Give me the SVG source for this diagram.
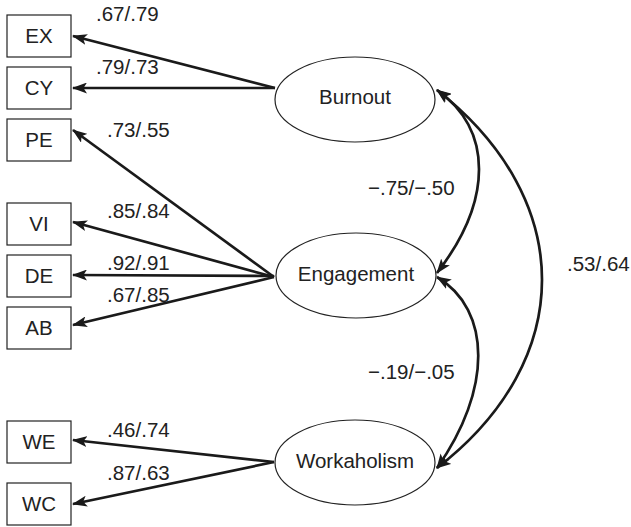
<svg xmlns="http://www.w3.org/2000/svg" width="631" height="527" viewBox="0 0 631 527">
<style>
.box{fill:#fff;stroke:#222;stroke-width:1.2}
.lat{fill:#fff;stroke:#222;stroke-width:1.2}
.t{font-family:"Liberation Sans",Arial,sans-serif;font-size:20.5px;fill:#222}
.c{text-anchor:middle}
.e{fill:none;stroke:#1a1a1a;stroke-width:2.7}
</style>
<defs>
<marker id="ah" viewBox="0 0 15 11" refX="14" refY="5.5" markerWidth="15" markerHeight="11" markerUnits="userSpaceOnUse" orient="auto-start-reverse">
<path d="M0,0 L15,5.5 L0,11 L3.5,5.5 Z" fill="#1a1a1a"/>
</marker>
</defs>
<g id="connectors">
<path class="e" d="M275,88 L73,36" marker-end="url(#ah)"/>
<path class="e" d="M275,88 L73,88" marker-end="url(#ah)"/>
<path class="e" d="M274,277 L73,130" marker-end="url(#ah)"/>
<path class="e" d="M274,277 L73,222" marker-end="url(#ah)"/>
<path class="e" d="M274,276 L73,275" marker-end="url(#ah)"/>
<path class="e" d="M274,277 L73,325" marker-end="url(#ah)"/>
<path class="e" d="M274,462 L73,440" marker-end="url(#ah)"/>
<path class="e" d="M274,462 L73,504" marker-end="url(#ah)"/>
<path class="e" d="M437,90 C493,130 493,200 437,273" marker-start="url(#ah)" marker-end="url(#ah)"/>
<path class="e" d="M437,277 C492,310 492,390 437,468" marker-start="url(#ah)" marker-end="url(#ah)"/>
<path class="e" d="M437,90 C577,200 577,360 437,468" marker-start="url(#ah)" marker-end="url(#ah)"/>
</g>
<g id="EX"><rect class="box" x="7" y="15" width="64" height="42"/><text class="t c" x="39" y="43">EX</text></g>
<g id="CY"><rect class="box" x="7" y="67" width="64" height="42"/><text class="t c" x="39" y="95">CY</text></g>
<g id="PE"><rect class="box" x="7" y="119" width="64" height="42"/><text class="t c" x="39" y="147">PE</text></g>
<g id="VI"><rect class="box" x="7" y="203" width="64" height="42"/><text class="t c" x="39" y="231">VI</text></g>
<g id="DE"><rect class="box" x="7" y="255" width="64" height="42"/><text class="t c" x="39" y="283">DE</text></g>
<g id="AB"><rect class="box" x="7" y="307" width="64" height="42"/><text class="t c" x="39" y="335">AB</text></g>
<g id="WE"><rect class="box" x="7" y="421" width="64" height="42"/><text class="t c" x="39" y="449">WE</text></g>
<g id="WC"><rect class="box" x="7" y="483" width="64" height="42"/><text class="t c" x="39" y="511">WC</text></g>
<g id="Burnout"><ellipse class="lat" cx="355" cy="99.5" rx="80" ry="42.5"/><text class="t c" x="355" y="104">Burnout</text></g>
<g id="Engagement"><ellipse class="lat" cx="356" cy="275.5" rx="80" ry="42.5"/><text class="t c" x="356" y="281">Engagement</text></g>
<g id="Workaholism"><ellipse class="lat" cx="355" cy="462.5" rx="80" ry="42.5"/><text class="t c" x="355" y="468">Workaholism</text></g>
<g id="labels">
<text class="t" x="96" y="21">.67/.79</text>
<text class="t" x="96" y="74">.79/.73</text>
<text class="t" x="107" y="137">.73/.55</text>
<text class="t" x="107" y="218">.85/.84</text>
<text class="t" x="107" y="270">.92/.91</text>
<text class="t" x="107" y="302">.67/.85</text>
<text class="t" x="107" y="437">.46/.74</text>
<text class="t" x="107" y="480">.87/.63</text>
<text class="t" x="368" y="195">−.75/−.50</text>
<text class="t" x="368" y="379">−.19/−.05</text>
<text class="t" x="567" y="271">.53/.64</text>
</g>
</svg>
